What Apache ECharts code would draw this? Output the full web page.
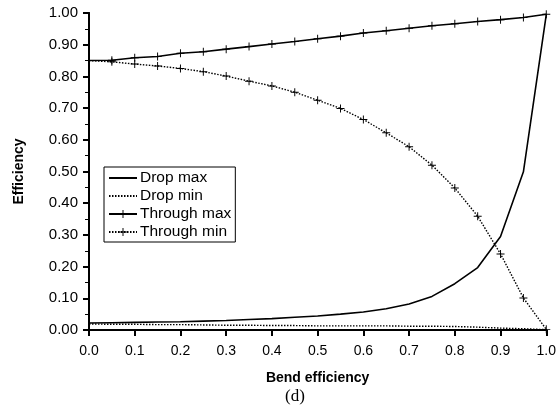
<!DOCTYPE html>
<html>
<head>
<meta charset="utf-8">
<script src="https://cdn.jsdelivr.net/npm/echarts@6/dist/echarts.min.js"></script>
<style>
  html, body { margin: 0; padding: 0; background: #fff; }
  #main { width: 559px; height: 410px; }
</style>
</head>
<body>
<div id="main"></div>
<script>
// bend efficiency 0 .. 1, step 0.05
var bendEff = [0, 0.05, 0.1, 0.15, 0.2, 0.25, 0.3, 0.35, 0.4, 0.45, 0.5,
               0.55, 0.6, 0.65, 0.7, 0.75, 0.8, 0.85, 0.9, 0.95, 1.0];
var dropMax = [0.022, 0.023, 0.024, 0.025, 0.026, 0.028, 0.030, 0.033, 0.036, 0.040, 0.044,
               0.050, 0.057, 0.067, 0.082, 0.106, 0.146, 0.197, 0.295, 0.499, 0.995];
var dropMin = [0.019, 0.018, 0.018, 0.017, 0.017, 0.016, 0.015, 0.015, 0.014, 0.014, 0.013,
               0.013, 0.013, 0.013, 0.012, 0.012, 0.011, 0.009, 0.006, 0.004, 0.001];
var throughMax = [0.850, 0.851, 0.859, 0.863, 0.873, 0.878, 0.886, 0.894, 0.902, 0.910, 0.919,
                  0.927, 0.937, 0.944, 0.952, 0.960, 0.966, 0.973, 0.979, 0.986, 0.996];
var throughMin = [0.850, 0.846, 0.839, 0.833, 0.825, 0.815, 0.801, 0.785, 0.770, 0.750, 0.725,
                  0.699, 0.664, 0.622, 0.578, 0.520, 0.448, 0.359, 0.240, 0.101, 0.002];
var seriesNames = ['Drop max', 'Drop min', 'Through max', 'Through min'];

function pairs(ys){
    var out = [];
    for (var i = 0; i < bendEff.length; i++) out.push([bendEff[i], ys[i]]);
    return out;
}

// thin "+" marker
var plus = 'path://M0,4.4H10V5.6H0Z M4.4,0H5.6V10H4.4Z';

var chart = echarts.init(document.getElementById('main'));
var option = {
    animation: false,
    backgroundColor: '#fff',
    textStyle: { fontFamily: 'Liberation Sans, Arial, sans-serif', color: '#000' },
    grid: { left: 89, right: 10, top: 13, bottom: 80 },
    legend: {
        orient: 'vertical',
        left: 104,
        top: 167,
        data: [
            { name: seriesNames[0], itemStyle: { opacity: 0 } },
            { name: seriesNames[1], itemStyle: { opacity: 0 } },
            { name: seriesNames[2] },
            { name: seriesNames[3] }
        ],
        itemWidth: 28,
        itemHeight: 10,
        itemGap: 2,
        padding: [3, 4, 2, 4],
        borderColor: '#000',
        borderWidth: 1,
        backgroundColor: '#fff',
        textStyle: { fontSize: 15.5, color: '#000', padding: [0, 0, 0, -2] }
    },
    xAxis: [{
        type: 'value',
        min: 0, max: 1, interval: 0.1,
        name: 'Bend efficiency',
        nameLocation: 'middle',
        nameGap: 41,
        nameTextStyle: { fontSize: 14, fontWeight: 'bold', color: '#000' },
        axisLine: { onZero: false, lineStyle: { color: '#000', width: 2 } },
        axisTick: { inside: false, length: 6, lineStyle: { color: '#000', width: 2 } },
        axisLabel: { fontSize: 14, color: '#000', margin: 14,
                     formatter: function(v){ return v.toFixed(1); } },
        splitLine: { show: false }
    }, {
        type: 'value', position: 'top', min: 0, max: 1,
        axisLine: { show: true, lineStyle: { color: '#000', width: 2 } },
        axisTick: { show: false }, axisLabel: { show: false }, splitLine: { show: false }
    }],
    yAxis: [{
        type: 'value',
        min: 0, max: 1, interval: 0.1,
        name: 'Efficiency',
        nameLocation: 'middle',
        nameGap: 63,
        nameTextStyle: { fontSize: 14, fontWeight: 'bold', color: '#000' },
        axisLine: { onZero: false, lineStyle: { color: '#000', width: 2 } },
        axisTick: { inside: false, length: 6, lineStyle: { color: '#000', width: 2 } },
        minorTick: { show: true, splitNumber: 2, length: 4, lineStyle: { color: '#000', width: 1 } },
        axisLabel: { fontSize: 15, color: '#000', margin: 11,
                     formatter: function(v){ return v.toFixed(2); } },
        splitLine: { show: false }
    }, {
        type: 'value', position: 'right', min: 0, max: 1,
        axisLine: { show: true, lineStyle: { color: '#000', width: 2 } },
        axisTick: { show: false }, axisLabel: { show: false }, splitLine: { show: false }
    }],
    graphic: [{
        type: 'text',
        left: 285, top: 388,
        style: { text: '(d)', fontSize: 17, fontFamily: 'Liberation Serif, Times New Roman, serif', fill: '#000' }
    }],
    series: [{
        name: 'Drop max',
        type: 'line',
        data: pairs(dropMax),
        symbol: 'none',
        color: '#000',
        lineStyle: { color: '#000', width: 1.6, type: 'solid' }
    }, {
        name: 'Drop min',
        type: 'line',
        data: pairs(dropMin),
        symbol: 'none',
        color: '#000',
        lineStyle: { color: '#000', width: 1.4, type: [1.5, 1.5] }
    }, {
        name: 'Through max',
        type: 'line',
        data: pairs(throughMax),
        symbol: plus,
        symbolSize: 8,
        color: '#000',
        itemStyle: { color: '#000' },
        lineStyle: { color: '#000', width: 1.6, type: 'solid' }
    }, {
        name: 'Through min',
        type: 'line',
        data: pairs(throughMin),
        symbol: plus,
        symbolSize: 8,
        color: '#000',
        itemStyle: { color: '#000' },
        lineStyle: { color: '#000', width: 1.4, type: [1.5, 1.5] }
    }]
};
chart.setOption(option);
</script>
</body>
</html>
